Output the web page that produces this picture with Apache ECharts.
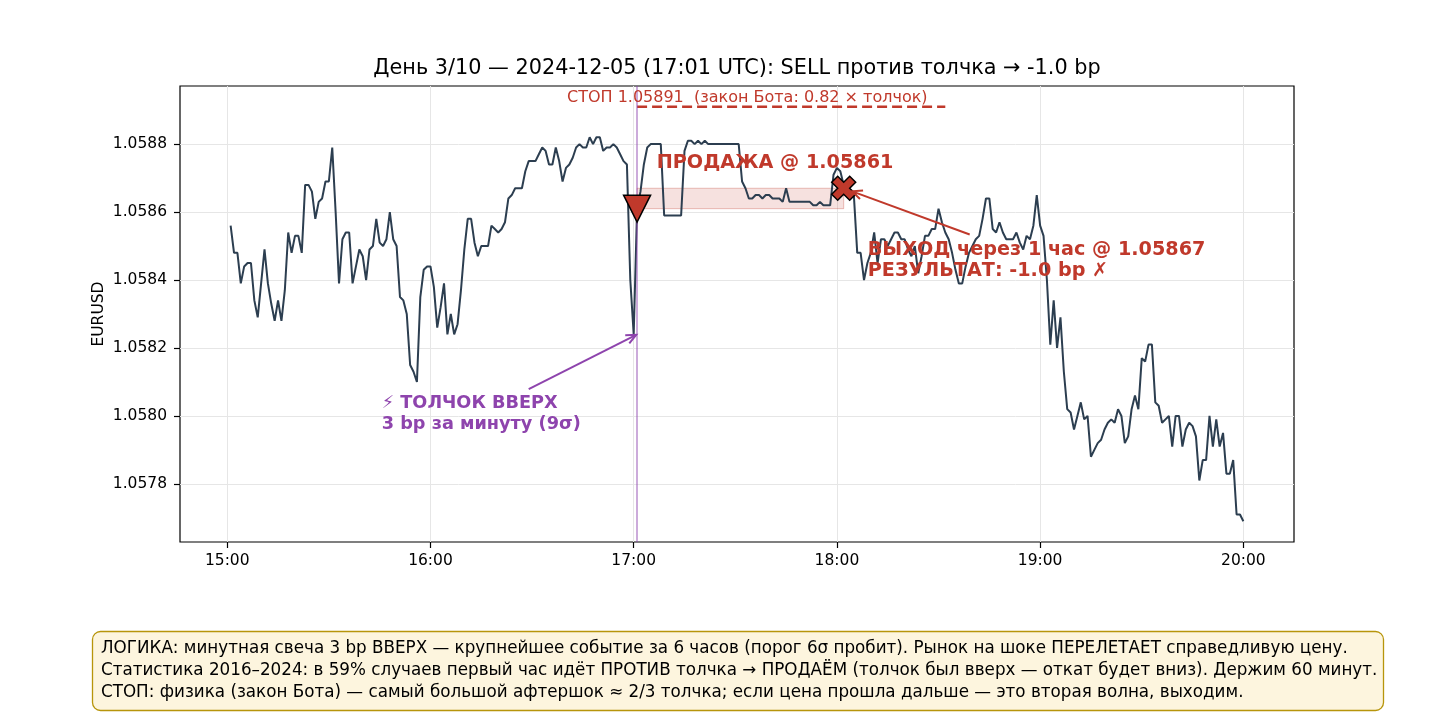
<!DOCTYPE html>
<html>
<head>
<meta charset="utf-8">
<script src="https://cdn.jsdelivr.net/npm/echarts/dist/echarts.min.js"></script>
<style>
  html, body { margin: 0; padding: 0; background: #fff; }
  #chart { width: 1437px; height: 713px; }
</style>
</head>
<body>
<div id="chart"></div>
<script>
// минуты считаем от 15:00, первая свеча 15:01
const START_MIN = 1;
// закрытия минутных свечей EURUSD, 15:01 ... 20:00
const PRICES = [
  1.05856,1.05848,1.05848,1.05839,1.05844,1.05845,1.05845,1.05834,1.05829,1.05839,
  1.05849,1.05839,1.05833,1.05828,1.05834,1.05828,1.05837,1.05854,1.05848,1.05853,
  1.05853,1.05848,1.05868,1.05868,1.05866,1.05858,1.05863,1.05864,1.05869,1.05869,
  1.05879,1.05860,1.05839,1.05852,1.05854,1.05854,1.05839,1.05844,1.05849,1.05847,
  1.05840,1.05849,1.05850,1.05858,1.05851,1.05850,1.05852,1.05860,1.05852,1.05850,
  1.05835,1.05834,1.05830,1.05815,1.05813,1.05810,1.05835,1.05843,1.05844,1.05844,
  1.05838,1.05826,1.05832,1.05839,1.05824,1.05830,1.05824,1.05827,1.05837,1.05849,
  1.05858,1.05858,1.05851,1.05847,1.05850,1.05850,1.05850,1.05856,1.05855,1.05854,
  1.05855,1.05857,1.05864,1.05865,1.05867,1.05867,1.05867,1.05872,1.05875,1.05875,
  1.05875,1.05877,1.05879,1.05878,1.05874,1.05874,1.05879,1.05875,1.05869,1.05873,
  1.05874,1.05876,1.05879,1.05880,1.05879,1.05879,1.05882,1.05880,1.05882,1.05882,
  1.05878,1.05879,1.05879,1.05880,1.05879,1.05877,1.05875,1.05874,1.05840,1.05824,
  1.05861,1.05866,1.05874,1.05879,1.05880,1.05880,1.05880,1.05880,1.05859,1.05859,
  1.05859,1.05859,1.05859,1.05859,1.05878,1.05881,1.05881,1.05880,1.05881,1.05880,
  1.05881,1.05880,1.05880,1.05880,1.05880,1.05880,1.05880,1.05880,1.05880,1.05880,
  1.05880,1.05869,1.05867,1.05864,1.05864,1.05865,1.05865,1.05864,1.05865,1.05865,
  1.05864,1.05864,1.05864,1.05863,1.05867,1.05863,1.05863,1.05863,1.05863,1.05863,
  1.05863,1.05863,1.05862,1.05862,1.05863,1.05862,1.05862,1.05862,1.05871,1.05873,
  1.05872,1.05868,1.05868,1.05866,1.05865,1.05848,1.05848,1.05840,1.05845,1.05848,
  1.05854,1.05845,1.05852,1.05852,1.05850,1.05852,1.05854,1.05854,1.05852,1.05852,
  1.05849,1.05847,1.05850,1.05842,1.05847,1.05853,1.05853,1.05855,1.05855,1.05861,
  1.05857,1.05854,1.05852,1.05848,1.05843,1.05839,1.05839,1.05844,1.05848,1.05850,
  1.05852,1.05853,1.05858,1.05864,1.05864,1.05855,1.05854,1.05857,1.05854,1.05852,
  1.05852,1.05852,1.05854,1.05851,1.05849,1.05853,1.05852,1.05856,1.05865,1.05856,
  1.05853,1.05840,1.05821,1.05834,1.05820,1.05829,1.05813,1.05802,1.05801,1.05796,
  1.05800,1.05804,1.05799,1.05800,1.05788,1.05790,1.05792,1.05793,1.05796,1.05798,
  1.05799,1.05798,1.05802,1.05800,1.05792,1.05794,1.05802,1.05806,1.05802,1.05817,
  1.05816,1.05821,1.05821,1.05804,1.05803,1.05798,1.05799,1.05800,1.05791,1.05800,
  1.05800,1.05791,1.05796,1.05798,1.05797,1.05794,1.05781,1.05787,1.05787,1.05800,
  1.05791,1.05799,1.05791,1.05795,1.05783,1.05783,1.05787,1.05771,1.05771,1.05769
];

const HOUR_TICKS = [0, 60, 120, 180, 240, 300];
const HOUR_LABELS = ["15:00", "16:00", "17:00", "18:00", "19:00", "20:00"];
const PRICE_TICKS = [1.0578, 1.0580, 1.0582, 1.0584, 1.0586, 1.0588];

// сделка
const SHOCK_MIN = 121;      // 17:01
const SHOCK_LOW = 1.05824;
const ENTRY_PRICE = 1.05861;
const EXIT_MIN = 182;
const EXIT_PRICE = 1.05867;
const STOP_PRICE = 1.05891;
const STOP_END_MIN = 212;

const FONT = "DejaVu Sans";
const RED = "#c0392b";
const PURPLE = "#8e44ad";

let myChart = echarts.init(document.getElementById("chart"));

let lineData = PRICES.map((v, i) => [START_MIN + i, v]);
let lastMin = START_MIN + PRICES.length - 1;
let xPad = (lastMin - START_MIN) * 0.05;
let lo = Math.min(Math.min(...PRICES), STOP_PRICE);
let hi = Math.max(Math.max(...PRICES), STOP_PRICE);
let yPad = (hi - lo) * 0.05;

// крестик как у matplotlib 'X'
const X_PATH = "path://M2.5,0 L5,2.5 L7.5,0 L10,2.5 L7.5,5 L10,7.5 L7.5,10 L5,7.5 L2.5,10 L0,7.5 L2.5,5 L0,2.5 Z";
const TRI_DOWN = "path://M0,0 L20,0 L10,20 Z";

var option = {
  animation: false,
  grid: {
    left: 180, top: 86, right: 143, bottom: 171,
    show: true, borderColor: "#000", borderWidth: 1.2, backgroundColor: "#fff",
  },
  xAxis: {
    type: "value",
    min: START_MIN - xPad,
    max: lastMin + xPad,
    axisLine: { show: false, onZero: false },
    axisTick: { show: true, inside: false, length: 6, customValues: HOUR_TICKS, lineStyle: { color: "#000", width: 1.2 } },
    axisLabel: {
      customValues: HOUR_TICKS,
      formatter: (v) => HOUR_LABELS[HOUR_TICKS.indexOf(v)],
      color: "#000", fontSize: 15.5, fontFamily: FONT, margin: 11,
    },
    splitLine: { show: true, lineStyle: { color: "#e6e6e6", width: 1 } },
  },
  yAxis: {
    type: "value",
    min: lo - yPad,
    max: hi + yPad,
    axisLine: { show: false, onZero: false },
    axisTick: { show: true, inside: false, length: 6, customValues: PRICE_TICKS, lineStyle: { color: "#000", width: 1.2 } },
    axisLabel: {
      customValues: PRICE_TICKS,
      formatter: (v) => v.toFixed(4),
      color: "#000", fontSize: 15.5, fontFamily: FONT, margin: 13,
    },
    splitLine: { show: true, lineStyle: { color: "#e6e6e6", width: 1 } },
  },
  series: [
    {
      // зона сделки
      type: "line", data: [], z: 1,
      markArea: {
        silent: true,
        itemStyle: { color: "rgba(192,57,43,0.15)", borderColor: "rgba(192,57,43,0.3)", borderWidth: 1 },
        data: [[{ coord: [SHOCK_MIN, ENTRY_PRICE] }, { coord: [EXIT_MIN, EXIT_PRICE] }]],
      },
    },
    {
      name: "EURUSD", type: "line", data: lineData, z: 3,
      showSymbol: false, symbol: "none",
      lineStyle: { color: "#2c3e50", width: 2 },
      markLine: {
        silent: true, symbol: "none", label: { show: false },
        lineStyle: { color: "rgba(142,68,173,0.6)", width: 1.5, type: "solid" },
        data: [{ xAxis: SHOCK_MIN }],
      },
    },
    {
      // стоп
      type: "line", z: 4, showSymbol: false, symbol: "none",
      data: [[SHOCK_MIN, STOP_PRICE], [STOP_END_MIN, STOP_PRICE]],
      lineStyle: { color: RED, width: 2.5, type: [10, 5] },
    },
    {
      type: "scatter", z: 6, symbol: TRI_DOWN, symbolSize: 27,
      data: [[SHOCK_MIN, ENTRY_PRICE]],
      itemStyle: { color: RED, borderColor: "#000", borderWidth: 1.5, opacity: 1 },
    },
    {
      type: "scatter", z: 6, symbol: X_PATH, symbolSize: 24,
      data: [[EXIT_MIN, EXIT_PRICE]],
      itemStyle: { color: RED, borderColor: "#000", borderWidth: 1.5, opacity: 1 },
    },
  ],
};

myChart.setOption(option);

// подписи и стрелки в координатах данных
const P = (x, y) => myChart.convertToPixel({ gridIndex: 0 }, [x, y]);

function arrow(from, to, color, shrink) {
  let a = P(from[0], from[1]);
  let b = P(to[0], to[1]);
  let dx = b[0] - a[0], dy = b[1] - a[1];
  let len = Math.hypot(dx, dy);
  let ux = dx / len, uy = dy / len;
  let x2 = b[0] - ux * shrink, y2 = b[1] - uy * shrink;
  let hl = 10, hw = 4.5;
  let bx = x2 - ux * hl, by = y2 - uy * hl;
  return [
    { type: "line", z: 50, shape: { x1: a[0], y1: a[1], x2: x2, y2: y2 }, style: { stroke: color, lineWidth: 2 } },
    {
      type: "polyline", z: 50,
      shape: { points: [[bx - uy * hw, by + ux * hw], [x2, y2], [bx + uy * hw, by - ux * hw]] },
      style: { stroke: color, lineWidth: 2, fill: null },
    },
  ];
}

function label(at, text, color, size, weight, lh) {
  let p = P(at[0], at[1]);
  return {
    type: "text", x: p[0], y: p[1], z: 60,
    style: {
      text: text, fill: color, fontSize: size, fontWeight: weight, fontFamily: FONT,
      textAlign: "left", textVerticalAlign: "middle", lineHeight: lh || size * 1.15,
    },
  };
}

const infoLines = [
  "ЛОГИКА: минутная свеча 3 bp ВВЕРХ — крупнейшее событие за 6 часов (порог 6σ пробит). Рынок на шоке ПЕРЕЛЕТАЕТ справедливую цену.",
  "Статистика 2016–2024: в 59% случаев первый час идёт ПРОТИВ толчка → ПРОДАЁМ (толчок был вверх — откат будет вниз). Держим 60 минут.",
  "СТОП: физика (закон Бота) — самый большой афтершок ≈ 2/3 толчка; если цена прошла дальше — это вторая волна, выходим.",
];

let graphics = [
  {
    type: "text", x: 737, y: 69, z: 60,
    style: { text: "День 3/10 — 2024-12-05 (17:01 UTC): SELL против толчка → -1.0 bp", fill: "#000", fontSize: 20.8, fontFamily: FONT, textAlign: "center", textVerticalAlign: "middle" },
  },
  {
    type: "text", x: 98.5, y: 314, rotation: Math.PI / 2, z: 60,
    style: { text: "EURUSD", fill: "#000", fontSize: 15.5, fontFamily: FONT, textAlign: "center", textVerticalAlign: "middle" },
  },
  label([100.3, 1.058937], "СТОП 1.05891  (закон Бота: 0.82 × толчок)", RED, 16, "normal"),
  label([126.8, 1.058743], "ПРОДАЖА @ 1.05861", RED, 19.2, "bold"),
  label([189.1, 1.058457], "ВЫХОД через 1 час @ 1.05867\nРЕЗУЛЬТАТ: -1.0 bp ✗", RED, 19.2, "bold", 21),
  label([45.6, 1.058006], "⚡ ТОЛЧОК ВВЕРХ\n3 bp за минуту (9σ)", PURPLE, 17.7, "bold", 21.5),
  ...arrow([219.2, 1.058534], [EXIT_MIN, EXIT_PRICE], RED, 9),
  ...arrow([89.0, 1.058079], [SHOCK_MIN, SHOCK_LOW], PURPLE, 1),
  {
    type: "rect", z: 40,
    shape: { x: 92.5, y: 631.5, width: 1291, height: 79, r: 8 },
    style: { fill: "#fdf5de", stroke: "#b7950b", lineWidth: 1.3 },
  },
];
infoLines.forEach((t, i) => {
  graphics.push({
    type: "text", x: 101, y: 648.5 + i * 22, z: 61,
    style: { text: t, fill: "#000", fontSize: 16.75, fontFamily: FONT, textAlign: "left", textVerticalAlign: "middle" },
  });
});

myChart.setOption({ graphic: graphics });

window.addEventListener("resize", function () {
  myChart.resize();
});
</script>
</body>
</html>
